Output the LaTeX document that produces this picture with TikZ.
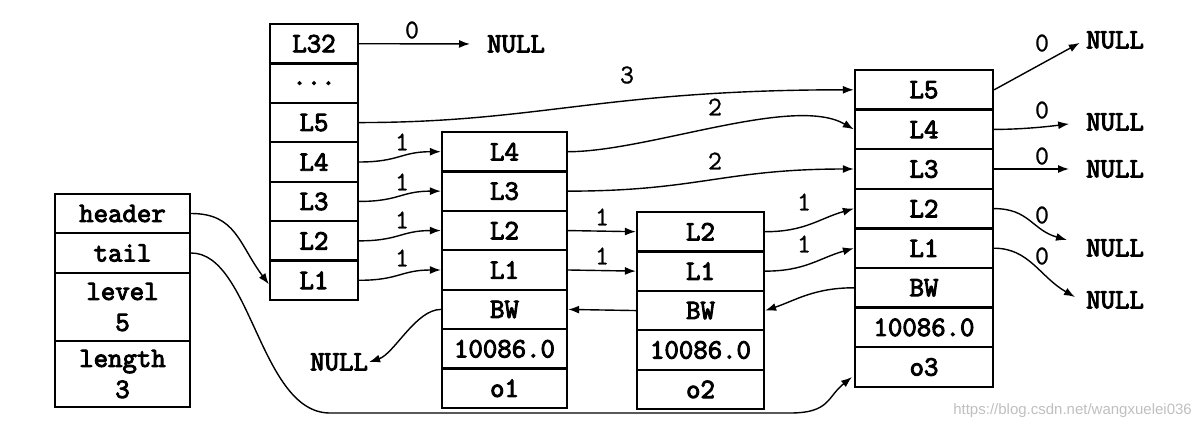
\documentclass[tikz,border=0pt]{standalone}
\usepackage{fontspec}
\newfontfamily\courB[FakeBold=3.5]{Latin Modern Mono}
\newfontfamily\cour[FakeBold=1]{Latin Modern Mono}
\newfontfamily\wmfont{Liberation Sans}
\usetikzlibrary{arrows.meta}
\def\tdots{...}
\begin{document}
\begin{tikzpicture}[x=1pt,y=-1pt,
  cell/.style={draw,line width=2.3pt,inner sep=0pt,font=\courB\fontsize{28}{31}\selectfont,anchor=center},
  conn/.style={line width=1.4pt,-{Latex[length=11pt,width=8pt]}},
  lbl/.style={font=\cour\fontsize{27}{28}\selectfont,inner sep=0pt},
  nul/.style={font=\courB\fontsize{28}{31}\selectfont,inner sep=1pt}]
\useasboundingbox (0,0) rectangle (1199,429);
% header box
\node[cell,minimum width=135pt,minimum height=39pt] (hd) at (122.5,213.5) {header};
\node[cell,minimum width=135pt,minimum height=40pt] (tl) at (122.5,253) {tail};
\node[cell,minimum width=135pt,minimum height=68pt,align=center] (lv) at (122.5,307) {level\\[0pt]5};
\node[cell,minimum width=135pt,minimum height=66pt,align=center] (ln) at (122.5,374) {length\\[0pt]3};
% header level column
\foreach \t/\n [count=\i from 0] in {L32/h32,\tdots/hdots,L5/h5,L4/h4,L3/h3,L2/h2,L1/h1}
  \node[cell,minimum width=88pt,minimum height=39.43pt] (\n) at (314,43.7+39.43*\i) {\t};
% o1
\foreach \t/\n [count=\i from 0] in {L4/a4,L3/a3,L2/a2,L1/a1,BW/abw,10086.0/asc,o1/aob}
  \node[cell,minimum width=125pt,minimum height=39.43pt] (\n) at (504.5,151.7+39.43*\i) {\t};
% o2
\foreach \t/\n [count=\i from 0] in {L2/b2,L1/b1,BW/bbw,10086.0/bsc,o2/bob}
  \node[cell,minimum width=127pt,minimum height=39.43pt] (\n) at (700.5,231.7+39.43*\i) {\t};
% o3
\foreach \t/\n [count=\i from 0] in {L5/c5,L4/c4,L3/c3,L2/c2,L1/c1,BW/cbw,10086.0/csc,o3/cob}
  \node[cell,minimum width=138pt,minimum height=39.6pt] (\n) at (924,89.8+39.6*\i) {\t};
% NULL nodes
\node[nul,anchor=west] (n0) at (486,44) {NULL};
\node[nul,anchor=west] (nb) at (309,362) {NULL};
\node[nul,anchor=west] (r5) at (1085,40) {NULL};
\node[nul,anchor=west] (r4) at (1085,122) {NULL};
\node[nul,anchor=west] (r3) at (1085,169) {NULL};
\node[nul,anchor=west] (r2) at (1085,248) {NULL};
\node[nul,anchor=west] (r1) at (1085,300) {NULL};
\coordinate (tailend) at (852,377);
\coordinate (e2) at (1067,240);
\coordinate (e1) at (1075,297);
% connectors
\draw[conn,shorten >=16pt] (h32.east) -- (n0.west);
\draw[conn] (hd.east) .. controls +(45,0) and +(-30,-40) .. ([yshift=-4pt]h1.west);
\draw[conn] (tl.east) .. controls +(60,0) and +(-70,0) .. (330,413) -- (790,413) .. controls +(40,0) and +(-25,20) .. (tailend);
\draw[conn] (h4.east) .. controls +(40,0) and +(-40,0) .. (a4.west);
\draw[conn] (h3.east) .. controls +(40,0) and +(-40,0) .. (a3.west);
\draw[conn] (h2.east) .. controls +(40,0) and +(-40,0) .. (a2.west);
\draw[conn] (h1.east) .. controls +(40,0) and +(-40,0) .. (a1.west);
\draw[conn] (h5.east) .. controls +(180,0) and +(-250,0) .. (c5.west);
\draw[conn] (a4.east) .. controls +(80,0) and +(-60,-35) .. (c4.west);
\draw[conn] (a3.east) .. controls +(130,0) and +(-130,0) .. (c3.west);
\draw[conn] (a2.east) -- (b2.west);
\draw[conn] (a1.east) -- (b1.west);
\draw[conn] (b2.east) .. controls +(40,0) and +(-35,10) .. (c2.west);
\draw[conn] (b1.east) .. controls +(40,0) and +(-35,10) .. (c1.west);
\draw[conn] (cbw.west) .. controls +(-40,0) and +(30,-10) .. (bbw.east);
\draw[conn] (bbw.west) -- (abw.east);
\draw[conn] (abw.west) .. controls +(-25,0) and +(25,-8) .. (nb.east);
\draw[conn,shorten >=6pt] (c5.east) -- (r5.west);
\draw[conn,shorten >=16pt] (c4.east) .. controls +(35,0) and +(-25,3) .. (r4.west);
\draw[conn,shorten >=16pt] (c3.east) -- (r3.west);
\draw[conn] (c2.east) .. controls +(35,0) and +(-35,-10) .. (e2);
\draw[conn] (c1.east) .. controls +(35,0) and +(-35,-20) .. (e1);
% labels
\node[lbl] at (412,30) {0};
\node[lbl] at (627,75) {3};
\node[lbl] at (715,107) {2};
\node[lbl] at (715,161) {2};
\node[lbl] at (402,142) {1};
\node[lbl] at (402,182) {1};
\node[lbl] at (402,220) {1};
\node[lbl] at (402,258) {1};
\node[lbl] at (602,217) {1};
\node[lbl] at (602,256) {1};
\node[lbl] at (804,202) {1};
\node[lbl] at (804,244) {1};
\node[lbl] at (1042,43) {0};
\node[lbl] at (1042,110) {0};
\node[lbl] at (1042,156) {0};
\node[lbl] at (1042,215) {0};
\node[lbl] at (1042,256) {0};
\node[font=\wmfont\fontsize{15}{18}\selectfont,text=black!25,anchor=east,inner sep=0pt] (wm) at (1192,411) {https://blog.csdn.net/wangxuelei036};
\end{tikzpicture}
\end{document}
